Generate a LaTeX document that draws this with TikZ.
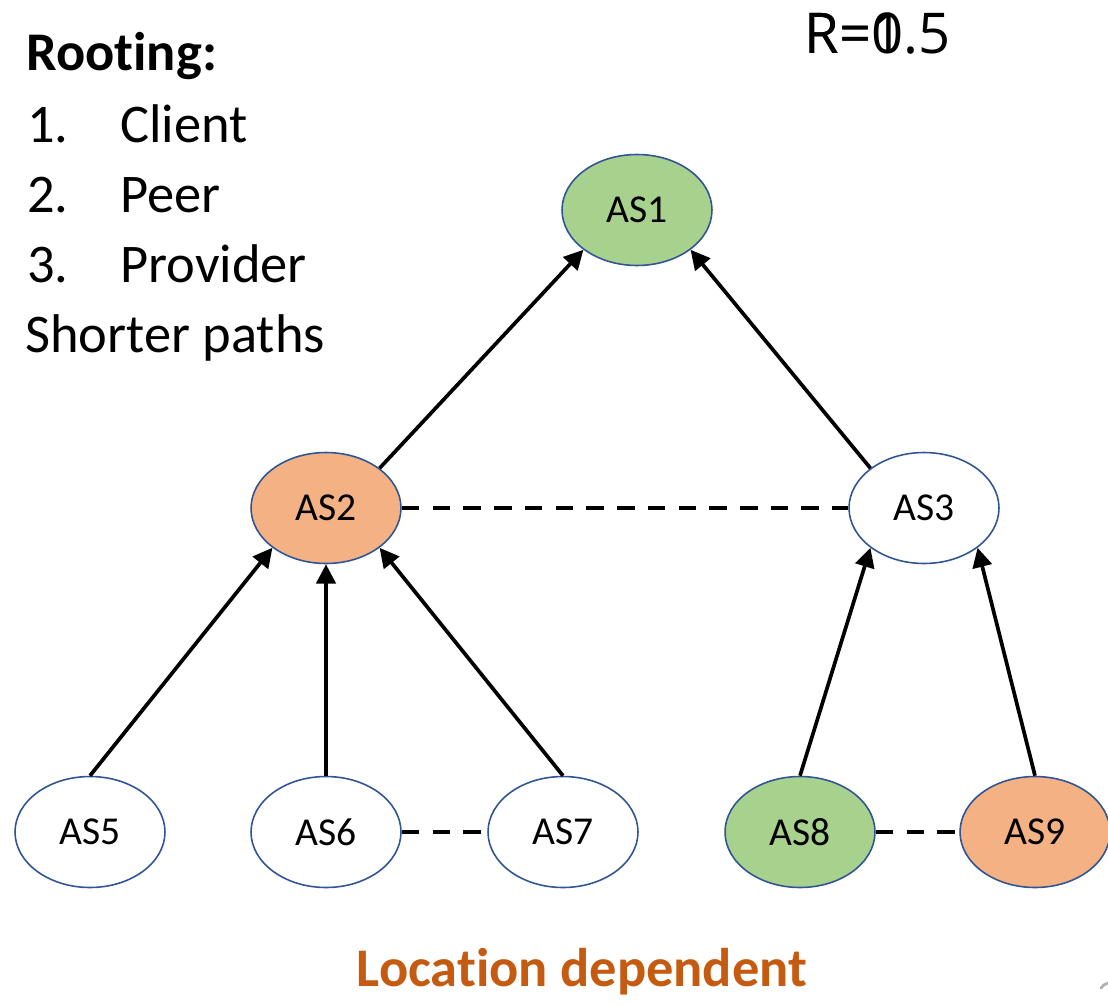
\documentclass[tikz,border=0pt]{standalone}
\usepackage{fontspec}
\setmainfont[Ligatures=NoCommon]{Carlito}
\newfontfamily\rfont{Open Sans}
\usetikzlibrary{arrows.meta,shapes.geometric}
\definecolor{asgreen}{HTML}{A9D18E}
\definecolor{asorange}{HTML}{F4B183}
\definecolor{asedge}{HTML}{2F5597}
\definecolor{locorange}{HTML}{C55A11}
\begin{document}
\begin{tikzpicture}[x=0.02cm,y=-0.02cm,
  as/.style={ellipse, draw=asedge, line width=0.9pt, fill=white,
    minimum width=3cm, minimum height=2.22cm, inner sep=0pt,
    font=\fontsize{22.5}{27}\selectfont},
  green/.style={fill=asgreen},
  orange/.style={fill=asorange},
  link/.style={line width=2.1pt, -{Triangle[length=11pt,width=11pt]}},
  peer/.style={line width=2.1pt, dash pattern=on 10pt off 7.5pt},
  lbl/.style={anchor=base west, inner sep=0pt, font=\fontsize{31}{37}\selectfont}]
\useasboundingbox (0,0) rectangle (1108,1004);

% legend
\node[lbl, font=\fontsize{31}{37}\selectfont\bfseries] (title) at (26,70) {Rooting:};
\node[lbl] (n1) at (27,142) {1.};
\node[lbl] (t1) at (120,142) {Client};
\node[lbl] (n2) at (27,212) {2.};
\node[lbl] (t2) at (120,212) {Peer};
\node[lbl] (n3) at (27,282) {3.};
\node[lbl] (t3) at (120,282) {Provider};
\node[lbl] (sp) at (25,352) {Shorter paths};

% two radius labels printed on top of each other
\node[lbl, font=\fontsize{32}{38}\selectfont\rfont] (r1) at (804,53) {R=1};
\node[lbl, font=\fontsize{32}{38}\selectfont\rfont] (r2) at (804,53) {R=0.5};

% autonomous systems
\node[as, green]  (as1) at (637,210) {AS1};
\node[as, orange] (as2) at (326,508) {AS2};
\node[as]         (as3) at (924,508) {AS3};
\node[as]         (as5) at (90,832)  {AS5};
\node[as]         (as6) at (326,832) {AS6};
\node[as]         (as7) at (563,832) {AS7};
\node[as, green]  (as8) at (800,832) {AS8};
\node[as, orange] (as9) at (1035,832) {AS9};

% customer -> provider links
\draw[link] (as2.north east) -- (as1.south west);
\draw[link] (as3.north west) -- (as1.south east);
\draw[link] (as5.north) -- (as2.south west);
\draw[link] (as6.north) -- (as2.south);
\draw[link] (as7.north) -- (as2.south east);
\draw[link] (as8.north) -- (as3.south west);
\draw[link] (as9.north) -- (as3.south east);

% peering links
\draw[peer] (as2.east) -- (as3.west);
\draw[peer] (as6.east) -- (as7.west);
\draw[peer] (as8.east) -- (as9.west);

% caption
\node[anchor=base, inner sep=0pt, text=locorange,
  font=\fontsize{31}{37}\selectfont\bfseries] (cap) at (582,986) {Location dependent};

% small mark in the corner
\draw[gray!60, line width=1.6pt, line cap=round] (1101,988) .. controls (1103,985) and (1105,984) .. (1108,983);
\end{tikzpicture}
\end{document}
